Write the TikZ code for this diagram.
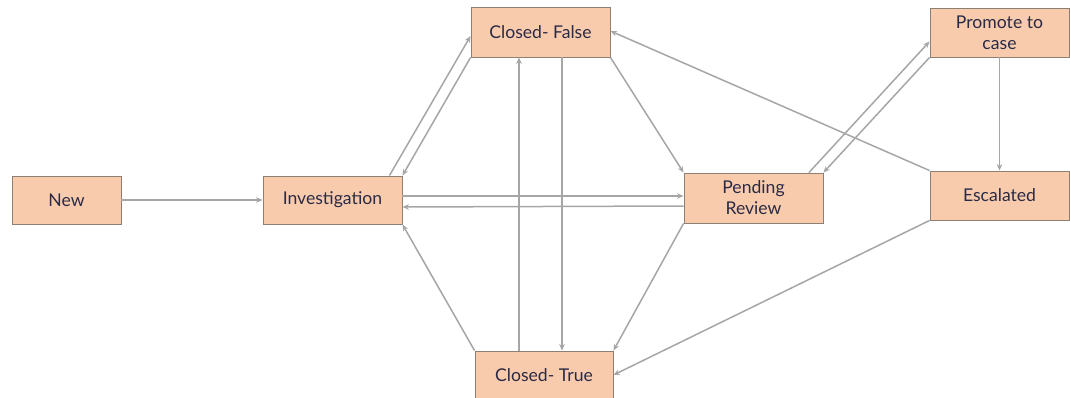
\documentclass[tikz,border=0pt]{standalone}
\usepackage{fontspec}
\setmainfont{Lato}
\usetikzlibrary{arrows.meta,calc}
\definecolor{boxfill}{HTML}{F8CBAD}
\definecolor{boxline}{HTML}{8E7F74}
\definecolor{txt}{HTML}{2A2A45}
\definecolor{arr}{HTML}{A6A6A6}
\begin{document}
\begin{tikzpicture}[x=1pt,y=-1pt,
  state/.style={draw=boxline,line width=0.9pt,fill=boxfill,text=txt,
    minimum width=139pt,minimum height=49pt,inner sep=0pt,align=center,
    font=\fontsize{17.6}{21}\selectfont},
  conn/.style={draw=arr,line width=1.5pt,-{Stealth[length=6.5pt,width=5.5pt]}}]
\useasboundingbox (0,0) rectangle (1070,398);
\node[state,minimum width=109pt,minimum height=48pt] (new) at (66.5,200) {New};
\node[state,minimum height=48pt] (inv) at (332.5,200) {Investigation};
\node[state,minimum height=50pt] (cf) at (540.5,32) {Closed- False};
\node[state] (pc) at (999.5,32.5) {Promote to\\case};
\node[state,minimum height=50pt] (pr) at (753.5,198) {Pending\\Review};
\node[state] (esc) at (999.5,195.5) {Escalated};
\node[state,minimum width=138pt,minimum height=48pt] (ct) at (544,375) {Closed- True};
\draw[conn] (new) -- (inv);
\draw[conn] ([xshift=-13pt]inv.north east) -- ([yshift=-4pt]cf.west);
\draw[conn] (cf.south west) -- (inv.north east);
\draw[conn] ([yshift=4pt]inv.east) -- ([yshift=2pt]pr.west);
\draw[conn] ([yshift=-8pt]pr.west) -- ([yshift=-7pt]inv.east);
\draw[conn] ([xshift=-25pt]ct.north) -- ([xshift=-21.5pt]cf.south);
\draw[conn] ([xshift=21.5pt]cf.south) -- ([xshift=18pt]ct.north);
\draw[conn] (cf.south east) -- (pr.north west);
\draw[conn] (esc.north west) -- ([yshift=1pt]cf.east);
\draw[conn] ([xshift=-14.5pt]pr.north east) -- ([yshift=-9pt]pc.west);
\draw[conn] (pc.south west) -- (pr.north east);
\draw[conn] (pc.south) -- (esc.north);
\draw[conn] (ct.north west) -- (inv.south east);
\draw[conn] (pr.south west) -- (ct.north east);
\draw[conn] (esc.south west) -- (ct.east);
\end{tikzpicture}
\end{document}
